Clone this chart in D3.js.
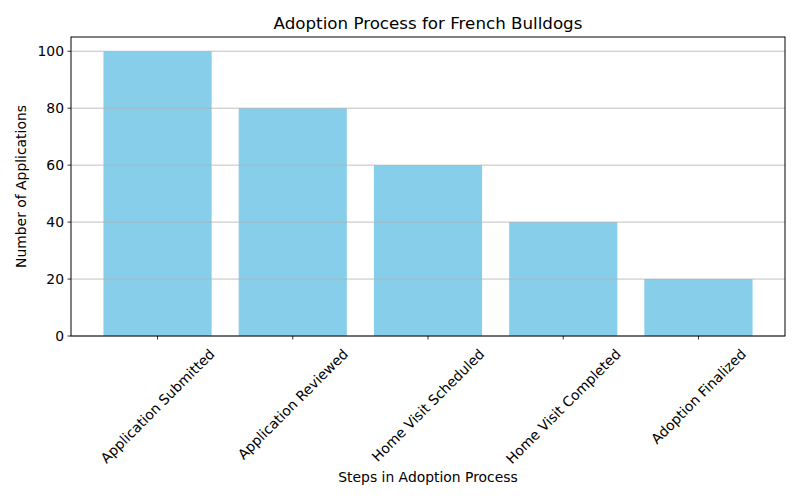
<!DOCTYPE html>
<html><head><meta charset="utf-8">
<script src="https://cdn.jsdelivr.net/npm/d3@7"></script>
<style>body{margin:0;background:#fff}text{font-family:"DejaVu Sans",sans-serif;fill:#000}</style>
</head><body>
<svg id="c" width="800" height="500"></svg>
<script>
const steps = ["Application Submitted","Application Reviewed","Home Visit Scheduled","Home Visit Completed","Adoption Finalized"];
const counts = [100, 80, 60, 40, 20];
const yTicks = [0, 20, 40, 60, 80, 100];

const svg = d3.select("#c");
const L = 71, R = 785, T = 37, B = 336;
const n = steps.length;
const x = d3.scaleLinear().domain([-0.64, n - 1 + 0.64]).range([L, R]);
const y = d3.scaleLinear().domain([0, 105]).range([B, T]);

// bars
svg.append("g").selectAll("rect").data(counts).join("rect")
  .attr("x", (d, i) => x(i - 0.4)).attr("width", (d, i) => x(i + 0.4) - x(i - 0.4))
  .attr("y", d => y(d)).attr("height", d => y(0) - y(d))
  .attr("fill", "#87ceeb");

// grid (drawn above bars)
svg.append("g").selectAll("line").data(yTicks).join("line")
  .attr("x1", L).attr("x2", R).attr("y1", d => y(d)).attr("y2", d => y(d))
  .attr("stroke", "#b0b0b0").attr("stroke-width", 0.8);

// frame
svg.append("rect").attr("x", L).attr("y", T).attr("width", R - L).attr("height", B - T)
  .attr("fill", "none").attr("stroke", "#000").attr("stroke-width", 1);

// y axis
const ya = svg.append("g");
ya.selectAll("line").data(yTicks).join("line")
  .attr("x1", L - 3.5).attr("x2", L).attr("y1", d => y(d)).attr("y2", d => y(d))
  .attr("stroke", "#000").attr("stroke-width", 0.8);
ya.selectAll("text").data(yTicks).join("text")
  .attr("x", L - 7).attr("y", d => y(d)).attr("text-anchor", "end")
  .attr("dominant-baseline", "central").attr("font-size", "13.9px").text(d => d);

// x axis ticks
const xa = svg.append("g");
xa.selectAll("line").data(steps).join("line")
  .attr("x1", (d, i) => x(i)).attr("x2", (d, i) => x(i)).attr("y1", B).attr("y2", B + 3.5)
  .attr("stroke", "#000").attr("stroke-width", 0.8);
const fs = 13.9;
xa.selectAll("text").data(steps).join("text")
  .attr("font-size", fs + "px").attr("text-anchor", "middle").attr("dominant-baseline", "central")
  .text(d => d)
  .each(function (d, i) {
    const w = this.getComputedTextLength();
    const h = (w + fs) * Math.SQRT1_2;
    const cx = x(i), cy = B + 3.5 + 7 + h / 2;
    d3.select(this).attr("transform", `translate(${cx},${cy}) rotate(-45)`);
  });

// labels
svg.append("text").attr("x", (L + R) / 2).attr("y", 482).attr("text-anchor", "middle")
  .attr("font-size", "13.9px").text("Steps in Adoption Process");
svg.append("text").attr("transform", `translate(26,${(T + B) / 2}) rotate(-90)`)
  .attr("text-anchor", "middle").attr("font-size", "13.9px").text("Number of Applications");
svg.append("text").attr("x", (L + R) / 2).attr("y", 29).attr("text-anchor", "middle")
  .attr("font-size", "16.7px").text("Adoption Process for French Bulldogs");
</script>
</body></html>
